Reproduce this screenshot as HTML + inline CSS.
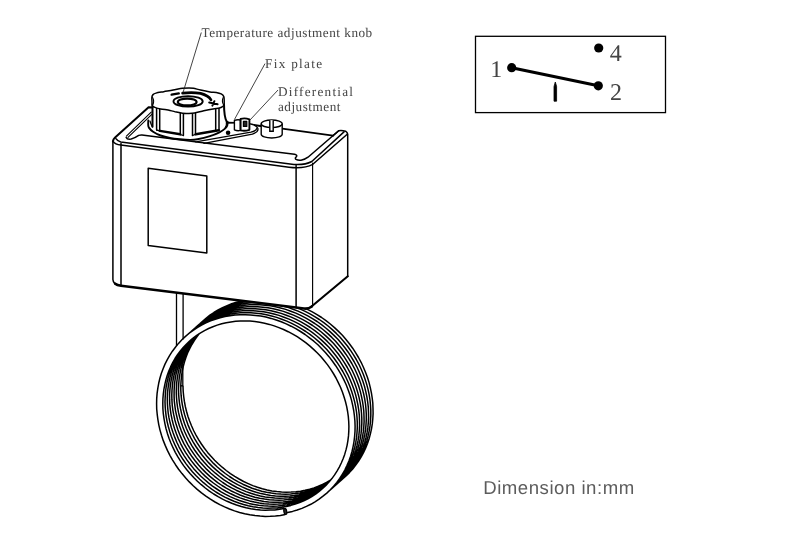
<!DOCTYPE html>
<html lang="en"><head><meta charset="utf-8"><title>Thermostat drawing</title>
<style>
html,body{margin:0;padding:0;background:#fff;}
body{width:800px;height:547px;overflow:hidden;}
svg{display:block;}
text{text-rendering:geometricPrecision;}
#labels,#switch,#dim{will-change:transform;}
</style></head>
<body>
<svg width="800" height="547" viewBox="0 0 800 547">
<rect width="800" height="547" fill="#fff"/>
<g id="coil"><path d="M176.5,292V346M183.1,292V339.5M182.8,364V385.8" fill="none" stroke="#000" stroke-width="1.3"/>
<path d="M180.8,385.8h2.4" fill="none" stroke="#000" stroke-width="1.4"/>
<path d="M285.3,514.6L280.4,515.4L275.4,516.0L270.3,516.3L265.2,516.4L260.1,516.1L255.0,515.6L249.8,514.8L244.7,513.8L239.6,512.5L234.5,510.9L229.5,509.0L224.6,506.9L219.8,504.6L215.0,502.0L210.4,499.2L205.9,496.1L201.5,492.9L197.2,489.4L193.2,485.7L189.3,481.9L185.5,477.8L182.0,473.6L178.6,469.2L175.5,464.7L172.6,460.1L169.9,455.3L167.4,450.4L165.2,445.4L163.2,440.4L161.5,435.2L160.0,430.1L158.8,424.8L157.9,419.6L157.2,414.3L156.7,409.1L156.6,403.8L156.7,398.6L157.1,393.4L157.8,388.3L158.7,383.3L159.9,378.3L161.3,373.5L163.1,368.7L165.0,364.1L167.3,359.6L169.7,355.3L172.4,351.2L175.4,347.2L178.5,343.4L181.9,339.8L185.5,336.4L189.2,333.2L193.2,330.3L197.3,327.6L201.6,325.1L206.0,322.9L210.6,320.9L215.3,319.2L220.1,317.8L225.0,316.6L230.0,315.7L235.0,315.1L240.1,314.8L245.2,314.7L250.4,314.9L255.6,315.4L260.8,316.1L265.9,317.1L271.1,318.4L276.2,320.0L281.2,321.8L286.2,323.9L291.1,326.2L295.8,328.7L300.5,331.5L305.1,334.5L309.5,337.8L313.8,341.2L317.9,344.8L321.8,348.7L325.6,352.7L329.2,356.9L332.5,361.2L335.7,365.7L338.7,370.3L341.4,375.0L343.9,379.9L346.2,384.8L348.2,389.9L350.0,395.0L351.5,400.1L352.7,405.3L353.7,410.5L354.4,415.7L354.9,421.0L355.1,426.2L355.0,431.4L354.6,436.5L354.0,441.6L353.1,446.6L352.0,451.5L350.6,456.3L348.9,461.0L346.9,465.6L344.8,470.1L342.3,474.3L339.7,478.5L336.8,482.4L333.6,486.2L330.3,489.7L326.8,493.1L323.0,496.2L319.1,499.2L315.0,501.8L310.8,504.3L306.4,506.4L301.9,508.4L297.2,510.0L292.5,511.4L287.6,512.6L285.1,513.0M186.5,335.5L190.2,332.3L194.1,329.2L198.2,326.5L202.4,323.9L206.8,321.6L211.3,319.6L216.0,317.8L220.7,316.2L225.6,315.0L230.5,314.0L235.6,313.3L240.6,312.8L245.8,312.7L250.9,312.8L256.1,313.2L261.3,313.8L266.5,314.8L271.6,316.0L276.7,317.4L281.8,319.2L286.8,321.1L291.7,323.4L296.5,325.9L301.2,328.6L305.8,331.5L310.3,334.7L314.6,338.0L318.8,341.6L322.8,345.4L326.6,349.3L330.2,353.5L333.7,357.7L336.9,362.2L340.0,366.8L342.8,371.5L345.4,376.3L347.7,381.2L349.8,386.2L351.6,391.2L353.2,396.4L354.6,401.6L355.7,406.8L356.5,412.0L357.0,417.2L357.3,422.4L357.3,427.6L357.0,432.8L356.5,437.9L355.7,442.9L354.6,447.9L353.3,452.7L351.7,457.5L349.9,462.1L347.8,466.6L345.4,470.9L342.8,475.1L340.0,479.1L337.0,483.0L333.7,486.6L330.2,490.0L327.2,492.7M188.8,333.5L192.5,330.3L196.4,327.2L200.4,324.5L204.6,321.9L209.0,319.6L213.6,317.6L218.2,315.8L223.0,314.2L227.8,313.0L232.8,312.0L237.8,311.3L242.9,310.8L248.0,310.7L253.2,310.8L258.4,311.2L263.6,311.8L268.7,312.8L273.9,314.0L279.0,315.4L284.0,317.2L289.0,319.1L293.9,321.4L298.8,323.9L303.5,326.6L308.1,329.5L312.5,332.7L316.8,336.0L321.0,339.6L325.0,343.4L328.9,347.3L332.5,351.5L335.9,355.7L339.2,360.2L342.2,364.8L345.0,369.5L347.6,374.3L349.9,379.2L352.0,384.2L353.9,389.2L355.5,394.4L356.8,399.6L357.9,404.8L358.7,410.0L359.3,415.2L359.5,420.4L359.6,425.6L359.3,430.8L358.8,435.9L358.0,440.9L356.9,445.9L355.6,450.7L354.0,455.5L352.1,460.1L350.0,464.6L347.7,468.9L345.1,473.1L342.2,477.1L339.2,481.0L335.9,484.6L332.5,488.0L329.4,490.7M191.0,331.5L194.7,328.3L198.6,325.2L202.7,322.5L206.9,319.9L211.3,317.6L215.8,315.6L220.5,313.8L225.2,312.2L230.1,311.0L235.0,310.0L240.1,309.3L245.1,308.8L250.3,308.7L255.4,308.8L260.6,309.2L265.8,309.8L271.0,310.8L276.1,312.0L281.2,313.4L286.3,315.2L291.3,317.1L296.2,319.4L301.0,321.9L305.7,324.6L310.3,327.5L314.8,330.7L319.1,334.0L323.3,337.6L327.3,341.4L331.1,345.3L334.7,349.5L338.2,353.7L341.4,358.2L344.5,362.8L347.3,367.5L349.9,372.3L352.2,377.2L354.3,382.2L356.1,387.2L357.7,392.4L359.1,397.6L360.2,402.8L361.0,408.0L361.5,413.2L361.8,418.4L361.8,423.6L361.5,428.8L361.0,433.9L360.2,438.9L359.1,443.9L357.8,448.7L356.2,453.5L354.4,458.1L352.3,462.6L349.9,466.9L347.3,471.1L344.5,475.1L341.5,479.0L338.2,482.6L334.7,486.0L331.7,488.7M193.3,329.5L197.0,326.3L200.9,323.2L204.9,320.5L209.1,317.9L213.5,315.6L218.1,313.6L222.7,311.8L227.5,310.2L232.3,309.0L237.3,308.0L242.3,307.3L247.4,306.8L252.5,306.7L257.7,306.8L262.9,307.2L268.1,307.8L273.2,308.8L278.4,310.0L283.5,311.4L288.5,313.2L293.5,315.1L298.4,317.4L303.3,319.9L308.0,322.6L312.6,325.5L317.0,328.7L321.3,332.0L325.5,335.6L329.5,339.4L333.4,343.3L337.0,347.5L340.4,351.7L343.7,356.2L346.7,360.8L349.5,365.5L352.1,370.3L354.4,375.2L356.5,380.2L358.4,385.2L360.0,390.4L361.3,395.6L362.4,400.8L363.2,406.0L363.8,411.2L364.0,416.4L364.1,421.6L363.8,426.8L363.3,431.9L362.5,436.9L361.4,441.9L360.1,446.7L358.5,451.5L356.6,456.1L354.5,460.6L352.2,464.9L349.6,469.1L346.7,473.1L343.7,477.0L340.4,480.6L337.0,484.0L333.9,486.7M195.5,327.5L199.2,324.3L203.1,321.2L207.2,318.5L211.4,315.9L215.8,313.6L220.3,311.6L225.0,309.8L229.7,308.2L234.6,307.0L239.5,306.0L244.6,305.3L249.6,304.8L254.8,304.7L259.9,304.8L265.1,305.2L270.3,305.8L275.5,306.8L280.6,308.0L285.7,309.4L290.8,311.2L295.8,313.1L300.7,315.4L305.5,317.9L310.2,320.6L314.8,323.5L319.3,326.7L323.6,330.0L327.8,333.6L331.8,337.4L335.6,341.3L339.2,345.5L342.7,349.7L345.9,354.2L349.0,358.8L351.8,363.5L354.4,368.3L356.7,373.2L358.8,378.2L360.6,383.2L362.2,388.4L363.6,393.6L364.7,398.8L365.5,404.0L366.0,409.2L366.3,414.4L366.3,419.6L366.0,424.8L365.5,429.9L364.7,434.9L363.6,439.9L362.3,444.7L360.7,449.5L358.9,454.1L356.8,458.6L354.4,462.9L351.8,467.1L349.0,471.1L346.0,475.0L342.7,478.6L339.2,482.0L336.2,484.7M197.8,325.5L201.5,322.3L205.4,319.2L209.4,316.5L213.6,313.9L218.0,311.6L222.6,309.6L227.2,307.8L232.0,306.2L236.8,305.0L241.8,304.0L246.8,303.3L251.9,302.8L257.0,302.7L262.2,302.8L267.4,303.2L272.6,303.8L277.7,304.8L282.9,306.0L288.0,307.4L293.0,309.2L298.0,311.1L302.9,313.4L307.8,315.9L312.5,318.6L317.1,321.5L321.5,324.7L325.8,328.0L330.0,331.6L334.0,335.4L337.9,339.3L341.5,343.5L344.9,347.7L348.2,352.2L351.2,356.8L354.0,361.5L356.6,366.3L358.9,371.2L361.0,376.2L362.9,381.2L364.5,386.4L365.8,391.6L366.9,396.8L367.7,402.0L368.3,407.2L368.5,412.4L368.6,417.6L368.3,422.8L367.8,427.9L367.0,432.9L365.9,437.9L364.6,442.7L363.0,447.5L361.1,452.1L359.0,456.6L356.7,460.9L354.1,465.1L351.2,469.1L348.2,473.0L344.9,476.6L341.5,480.0L338.4,482.7M200.0,323.5L203.7,320.3L207.6,317.2L211.7,314.5L215.9,311.9L220.3,309.6L224.8,307.6L229.5,305.8L234.2,304.2L239.1,303.0L244.0,302.0L249.1,301.3L254.1,300.8L259.3,300.7L264.4,300.8L269.6,301.2L274.8,301.8L280.0,302.8L285.1,304.0L290.2,305.4L295.3,307.2L300.3,309.1L305.2,311.4L310.0,313.9L314.7,316.6L319.3,319.5L323.8,322.7L328.1,326.0L332.3,329.6L336.3,333.4L340.1,337.3L343.7,341.5L347.2,345.7L350.4,350.2L353.5,354.8L356.3,359.5L358.9,364.3L361.2,369.2L363.3,374.2L365.1,379.2L366.7,384.4L368.1,389.6L369.2,394.8L370.0,400.0L370.5,405.2L370.8,410.4L370.8,415.6L370.5,420.8L370.0,425.9L369.2,430.9L368.1,435.9L366.8,440.7L365.2,445.5L363.4,450.1L361.3,454.6L358.9,458.9L356.3,463.1L353.5,467.1L350.5,471.0L347.2,474.6L343.7,478.0L340.7,480.7M202.3,321.5L206.0,318.3L209.9,315.2L213.9,312.5L218.1,309.9L222.5,307.6L227.1,305.6L231.7,303.8L236.5,302.2L241.3,301.0L246.3,300.0L251.3,299.3L256.4,298.8L261.5,298.7L266.7,298.8L271.9,299.2L277.1,299.8L282.2,300.8L287.4,302.0L292.5,303.4L297.5,305.2L302.5,307.1L307.4,309.4L312.3,311.9L317.0,314.6L321.6,317.5L326.0,320.7L330.3,324.0L334.5,327.6L338.5,331.4L342.4,335.3L346.0,339.5L349.4,343.7L352.7,348.2L355.7,352.8L358.5,357.5L361.1,362.3L363.4,367.2L365.5,372.2L367.4,377.2L369.0,382.4L370.3,387.6L371.4,392.8L372.2,398.0L372.8,403.2L373.0,408.4L373.1,413.6L372.8,418.8L372.3,423.9L371.5,428.9L370.4,433.9L369.1,438.7L367.5,443.5L365.6,448.1L363.5,452.6L361.2,456.9L358.6,461.1L355.7,465.1L352.7,469.0L349.4,472.6L346.0,476.0L342.9,478.7M284.1,508.5L279.5,509.3L274.8,509.9L270.1,510.1L265.3,510.2L260.5,510.0L255.7,509.5L250.9,508.7L246.1,507.7L241.3,506.5L236.5,505.0L231.8,503.3L227.1,501.3L222.6,499.1L218.1,496.6L213.7,494.0L209.4,491.1L205.3,488.0L201.3,484.7L197.4,481.2L193.7,477.5L190.2,473.7L186.8,469.7L183.6,465.6L180.7,461.3L177.9,456.9L175.3,452.3L173.0,447.7L170.9,443.0L169.0,438.2L167.4,433.4L166.0,428.5L164.9,423.6L164.0,418.6L163.3,413.7L162.9,408.7L162.8,403.8L162.9,398.9L163.3,394.0L163.9,389.3L164.8,384.6L165.9,379.9L167.2,375.4L168.8,371.0L170.7,366.7L172.7,362.6L175.0,358.5L177.5,354.7L180.3,351.0L183.2,347.5L186.3,344.2L189.6,341.0L193.1,338.1L196.7,335.4L200.6,332.9L204.5,330.6L208.6,328.5L212.9,326.7L217.2,325.1L221.7,323.8L226.2,322.7L230.9,321.9L235.6,321.3L240.3,321.0L245.1,320.9L250.0,321.1L254.8,321.5L259.7,322.2L264.6,323.2L269.4,324.4L274.2,325.9L278.9,327.6L283.6,329.5L288.2,331.7L292.8,334.1L297.2,336.7L301.5,339.6L305.7,342.7L309.7,345.9L313.6,349.4L317.4,353.0L321.0,356.8L324.3,360.8L327.6,364.9L330.6,369.1L333.4,373.5L336.0,378.0L338.3,382.6L340.5,387.3L342.4,392.0L344.0,396.8L345.5,401.7L346.7,406.6L347.6,411.5L348.3,416.4L348.7,421.3L348.9,426.2L348.8,431.1L348.5,435.9L347.9,440.6L347.1,445.3L346.0,449.9L344.7,454.4L343.1,458.8L341.3,463.0L339.3,467.1L337.0,471.1L334.6,474.9L331.9,478.6L329.0,482.1L325.9,485.4L322.6,488.5L319.2,491.4L315.6,494.1L311.8,496.5L307.9,498.8L303.8,500.8L299.6,502.6L295.3,504.1L290.9,505.4L286.3,506.5L281.7,507.3L277.1,507.9L272.4,508.1L267.6,508.2L262.8,508.0L258.0,507.5L253.1,506.7L248.3,505.7L243.5,504.5L238.8,503.0L234.0,501.3L229.4,499.3L224.8,497.1L220.3,494.6L215.9,492.0L211.7,489.1L207.5,486.0L203.5,482.7L199.7,479.2L195.9,475.5L192.4,471.7L189.1,467.7L185.9,463.6L182.9,459.3L180.1,454.9L177.6,450.3L175.3,445.7L173.2,441.0L171.3,436.2L169.7,431.4L168.3,426.5L167.1,421.6L166.2,416.6L165.6,411.7L165.2,406.7L165.0,401.8L165.2,396.9L165.5,392.0L166.1,387.3L167.0,382.6L168.1,377.9L169.5,373.4L171.1,369.0L172.9,364.7L175.0,360.6L177.3,356.5L179.8,352.7L182.5,349.0L185.4,345.5L188.5,342.2L190.7,340.0M323.8,487.5L320.3,490.3L316.6,492.9L312.8,495.3L308.8,497.5L304.7,499.4L300.4,501.1L296.1,502.6L291.6,503.8L287.1,504.8L282.4,505.5L277.8,506.0L273.0,506.2L268.2,506.1L263.4,505.8L258.6,505.3L253.8,504.4L249.0,503.4L244.2,502.0L239.4,500.5L234.7,498.6L230.1,496.6L225.6,494.3L221.1,491.8L216.8,489.0L212.5,486.1L208.4,482.9L204.5,479.5L200.6,476.0L197.0,472.3L193.5,468.4L190.2,464.3L187.1,460.1L184.2,455.8L181.5,451.4L179.0,446.8L176.8,442.2L174.8,437.4L173.0,432.6L171.4,427.8L170.1,422.8L169.0,417.9L168.2,413.0L167.7,408.0L167.4,403.1L167.3,398.1L167.5,393.3L168.0,388.4L168.7,383.7L169.6,379.0L170.8,374.4L172.2,369.9L173.9,365.6L175.8,361.3L178.0,357.2L180.3,353.2L182.9,349.4L185.7,345.8L188.7,342.4L191.9,339.1M324.9,486.4L321.3,489.2L317.6,491.7L313.7,494.1L309.7,496.2L305.5,498.0L301.2,499.7L296.8,501.0L292.4,502.2L287.8,503.1L283.1,503.7L278.4,504.1L273.7,504.2L268.9,504.1L264.1,503.7L259.2,503.0L254.4,502.1L249.6,500.9L244.8,499.5L240.1,497.9L235.4,496.0L230.8,493.8L226.3,491.5L221.9,488.9L217.6,486.0L213.4,483.0L209.3,479.8L205.4,476.4L201.7,472.8L198.1,469.0L194.7,465.0L191.4,460.9L188.4,456.7L185.5,452.3L182.9,447.9L180.5,443.3L178.3,438.6L176.4,433.8L174.7,429.0L173.2,424.1L172.0,419.2L171.0,414.3L170.3,409.3L169.8,404.4L169.6,399.4L169.6,394.5L169.9,389.7L170.4,384.9L171.2,380.1L172.2,375.5L173.5,370.9L175.0,366.5L176.8,362.1L178.8,357.9L181.0,353.9L183.4,350.0L186.1,346.2L188.9,342.6L192.0,339.2L193.0,338.2M325.3,485.8L321.7,488.5L317.9,490.9L313.9,493.1L309.9,495.1L305.6,496.9L301.3,498.4L296.9,499.6L292.3,500.7L287.7,501.4L283.0,501.9L278.3,502.2L273.5,502.2L268.7,501.9L263.9,501.4L259.1,500.6L254.3,499.6L249.5,498.3L244.7,496.7L240.0,495.0L235.4,492.9L230.8,490.7L226.3,488.2L222.0,485.5L217.7,482.6L213.6,479.4L209.6,476.1L205.8,472.6L202.1,468.9L198.6,465.0L195.3,461.0L192.1,456.8L189.2,452.5L186.5,448.1L183.9,443.6L181.6,438.9L179.6,434.2L177.8,429.4L176.2,424.6L174.8,419.7L173.7,414.7L172.8,409.8L172.2,404.8L171.9,399.9L171.8,395.0L172.0,390.1L172.4,385.2L173.0,380.5L173.9,375.8L175.1,371.2L176.5,366.7L178.1,362.3L180.0,358.0L182.1,353.9L184.4,349.9L187.0,346.1L189.7,342.4L192.7,338.9L194.2,337.2M326.4,484.8L322.7,487.3L318.8,489.7L314.8,491.8L310.7,493.7L306.5,495.4L302.1,496.8L297.6,498.0L293.1,498.9L288.4,499.6L283.7,500.0L279.0,500.2L274.2,500.1L269.4,499.7L264.5,499.1L259.7,498.3L254.9,497.2L250.1,495.8L245.4,494.2L240.7,492.3L236.1,490.2L231.6,487.9L227.1,485.3L222.8,482.5L218.6,479.5L214.5,476.3L210.6,473.0L206.8,469.4L203.2,465.6L199.7,461.7L196.4,457.6L193.4,453.4L190.5,449.1L187.8,444.6L185.4,440.0L183.2,435.4L181.2,430.6L179.4,425.8L177.9,420.9L176.7,416.0L175.6,411.1L174.9,406.1L174.3,401.2L174.1,396.2L174.1,391.3L174.3,386.5L174.8,381.6L175.5,376.9L176.5,372.2L177.8,367.7L179.3,363.2L181.0,358.8L182.9,354.6L185.1,350.5L187.5,346.6L190.1,342.8L192.9,339.2L195.4,336.4M327.4,483.6L323.7,486.1L319.8,488.4L315.7,490.5L311.6,492.3L307.3,493.9L302.9,495.2L298.4,496.3L293.8,497.2L289.1,497.8L284.4,498.1L279.6,498.2L274.8,498.0L270.0,497.6L265.2,496.9L260.4,495.9L255.6,494.7L250.8,493.3L246.1,491.6L241.4,489.6L236.8,487.5L232.3,485.0L227.9,482.4L223.6,479.6L219.5,476.5L215.4,473.2L211.5,469.8L207.8,466.2L204.2,462.3L200.9,458.4L197.7,454.3L194.6,450.0L191.8,445.6L189.3,441.1L186.9,436.5L184.7,431.8L182.8,427.0L181.2,422.2L179.7,417.3L178.5,412.4L177.6,407.4L176.9,402.5L176.5,397.5L176.3,392.6L176.4,387.7L176.7,382.9L177.3,378.1L178.1,373.3L179.2,368.7L180.5,364.2L182.1,359.7L183.9,355.4L185.9,351.2L188.1,347.2L190.6,343.3L193.3,339.6L196.2,336.1L196.7,335.5M328.5,482.5L324.7,484.9L320.7,487.1L316.6,489.1L312.4,490.9L308.1,492.4L303.6,493.6L299.1,494.7L294.5,495.4L289.8,495.9L285.1,496.2L280.3,496.2L275.5,495.9L270.7,495.4L265.8,494.6L261.0,493.6L256.2,492.3L251.5,490.7L246.8,489.0L242.1,486.9L237.6,484.7L233.1,482.2L228.7,479.5L224.5,476.6L220.3,473.4L216.4,470.1L212.5,466.6L208.8,462.9L205.3,459.0L202.0,455.0L198.9,450.8L195.9,446.5L193.2,442.1L190.7,437.6L188.4,432.9L186.3,428.2L184.5,423.4L182.9,418.6L181.6,413.7L180.5,408.7L179.6,403.8L179.0,398.8L178.6,393.9L178.5,389.0L178.7,384.1L179.1,379.2L179.8,374.5L180.7,369.8L181.8,365.2L183.2,360.7L184.9,356.3L186.8,352.0L188.9,347.9L191.2,343.9L193.7,340.1L196.5,336.4L197.9,334.6M329.5,481.3L325.6,483.7L321.6,485.8L317.5,487.7L313.2,489.4L308.8,490.8L304.4,492.0L299.8,492.9L295.2,493.6L290.5,494.0L285.7,494.2L280.9,494.1L276.1,493.7L271.3,493.1L266.5,492.3L261.7,491.2L256.9,489.8L252.1,488.2L247.5,486.3L242.8,484.2L238.3,481.9L233.9,479.3L229.5,476.5L225.3,473.5L221.3,470.3L217.3,467.0L213.5,463.4L209.9,459.6L206.5,455.7L203.2,451.6L200.1,447.4L197.3,443.1L194.6,438.6L192.2,434.0L189.9,429.4L187.9,424.6L186.2,419.8L184.7,414.9L183.4,410.0L182.4,405.1L181.6,400.1L181.1,395.2L180.8,390.2L180.8,385.3L181.1,380.5L181.6,375.6L182.3,370.9L183.3,366.2L184.5,361.7L186.0,357.2L187.7,352.8L189.7,348.6L191.9,344.5L194.3,340.6L196.9,336.8L199.2,333.8M330.4,480.1L326.5,482.4L322.5,484.5L318.3,486.3L314.0,487.9L309.6,489.2L305.1,490.3L300.5,491.2L295.9,491.8L291.1,492.1L286.4,492.2L281.6,492.0L276.8,491.6L271.9,490.9L267.1,489.9L262.3,488.7L257.5,487.3L252.8,485.6L248.2,483.6L243.6,481.5L239.1,479.0L234.7,476.4L230.4,473.6L226.2,470.5L222.2,467.2L218.3,463.8L214.6,460.2L211.0,456.3L207.6,452.4L204.4,448.3L201.4,444.0L198.6,439.6L196.0,435.1L193.6,430.5L191.5,425.8L189.6,421.0L187.9,416.2L186.5,411.3L185.3,406.4L184.4,401.4L183.7,396.5L183.2,391.5L183.0,386.6L183.0,385.8" fill="none" stroke="#000" stroke-width="1.5" stroke-linejoin="round"/>
<ellipse cx="285.3" cy="511.5" rx="1.4" ry="3.1" transform="rotate(-10 284.7 511.5)" fill="#2a2a2a" stroke="#000" stroke-width="1.3"/></g>
<g id="box" fill="none" stroke="#000" stroke-width="1.5" stroke-linejoin="round" stroke-linecap="round">
<path fill="#fff" stroke="none" d="M112.8,141 Q113.2,138.6 114.6,137.3 L148.3,106.8 L152,107.2 L260,123 L333.1,135.6 L338.7,130.7 Q341.5,130 345.6,131.2 Q347.6,132.4 347.7,134.5 L347.9,276.3 L311.5,306.5 Q309,309 304,308.4 L120.5,285 Q113.2,284 112.9,279 Z"/>
<!-- silhouette -->
<path d="M112.9,141.5 V279.5 Q113.2,284.2 119,285.3"/>
<path stroke-width="2" d="M112.9,141.5 Q113.2,139.2 114.8,137.8 L148.6,107.2 L153,107.6"/>
<path stroke-width="1.9" d="M227.6,122.8 L236,123 M250,124.4 L262,126.2 M282.2,128.6 L333.1,135.6"/>
<path d="M333.1,135.6 L338.7,130.7 Q341.5,130 345.6,131.2 Q347.6,132.4 347.7,134.5 V276.3"/>
<path stroke-width="2.1" d="M347.8,276.3 L311.8,306.2"/>
<path stroke-width="2.6" d="M115.2,283.7 Q117,285.2 121,285.7 L304,308.5 Q308.6,309 311.8,306.4"/>
<!-- verticals -->
<path d="M121,143.5 V285 M296.1,165.5 V307"/>
<path stroke-width="1.15" d="M312.6,163 V305.5"/>
<!-- front top edges -->
<path d="M115.9,138.7 Q117.5,141.2 120.8,141.9 L290,164 Q303,166 311.8,161.5 L344,131.9"/>
<path d="M113.1,141.3 Q115,144.3 120.8,145 L289,167.2 Q304,169 312.8,164.3 L347.5,134"/>
<!-- inner recess -->
<path d="M126.2,137.4 Q127,139.6 131.2,139 Q134.5,138.3 138.7,135.4 Q140,134.9 142,135 L294.5,154.3 Q297.5,155 296.5,156.6 Q294.5,158 296,159.4 Q298,160.6 301,160.2 Q305,159.6 308,157.2 L338.7,130.7"/>
<!-- groove top-left -->
<path stroke-width="1.1" d="M126.4,136.2 L151.2,112.2 M128,137.4 L152.6,113.6"/>
<!-- outer diagonal doubling -->

<!-- label rect -->
<path d="M148.2,168.3 L206.8,176 V252.9 L148.2,245.4 Z"/>
</g>

<g id="plate" fill="#fff" stroke="#000" stroke-width="1.3" stroke-linejoin="round" stroke-linecap="round">
<path stroke="none" d="M196,142 L252,133.6 Q259,131.5 257.6,128 Q255.5,124 248,123 L226,124 L200,136 Z"/>
<path fill="none" d="M204,143.4 L252.4,134.2 Q259,131.8 257.8,128.2 Q256,124.8 250,123.9"/>
<path fill="none" d="M195.8,141.9 L251,132.2 Q256.5,130.6 256.6,128.6"/>
<circle cx="228.1" cy="132.8" r="2.3" fill="#000" stroke="none"/>
<path d="M234.4,120.4 Q237.4,119.2 240.4,120 V130.4 Q237.4,131.2 234.4,129.8 Z" stroke-width="1.4"/>
<path d="M240.6,118.9 Q245,117.6 249.4,119.4 V129.8 Q245,131.4 240.6,130.4 Z" stroke-width="1.9"/>
<path d="M243.4,121.4 h3.4 v5 h-3.4z" fill="#222" stroke-width="1.2"/>
</g>

<g id="screw" fill="#fff" stroke="#000" stroke-width="1.4">
<path d="M261.2,123.8 V134.2 A10.5,3.8 0 0,0 282.2,134.2 V123.8"/>
<ellipse cx="271.7" cy="123.8" rx="10.5" ry="3.8"/>
<path d="M269.8,120.2 V131.2 H273.2 V120.2" />
</g>

<g id="knob" fill="#fff" stroke="#000" stroke-width="1.5" stroke-linejoin="round" stroke-linecap="round">
<!-- flange -->
<path d="M148.30,120.50C148.28,121.17 148.10,123.32 148.20,124.50C148.30,125.68 148.08,126.38 148.90,127.60C149.72,128.82 151.15,130.48 153.10,131.80C155.05,133.12 157.78,134.47 160.60,135.50C163.42,136.53 166.77,137.37 170.00,138.00C173.23,138.63 176.67,138.98 180.00,139.30C183.33,139.62 187.08,139.90 190.00,139.90C192.92,139.90 194.17,139.92 197.50,139.30C200.83,138.68 206.35,137.35 210.00,136.20C213.65,135.05 216.90,133.67 219.40,132.40C221.90,131.13 223.70,129.73 225.00,128.60C226.30,127.47 226.77,126.70 227.20,125.60C227.63,124.50 227.53,122.60 227.60,122.00 L224,112 L152.4,112 L152.4,120 Z" stroke="none"/>
<path d="M148.30,120.50C148.28,121.17 148.10,123.32 148.20,124.50C148.30,125.68 148.08,126.38 148.90,127.60C149.72,128.82 151.15,130.48 153.10,131.80C155.05,133.12 157.78,134.47 160.60,135.50C163.42,136.53 166.77,137.37 170.00,138.00C173.23,138.63 176.67,138.98 180.00,139.30C183.33,139.62 187.08,139.90 190.00,139.90C192.92,139.90 194.17,139.92 197.50,139.30C200.83,138.68 206.35,137.35 210.00,136.20C213.65,135.05 216.90,133.67 219.40,132.40C221.90,131.13 223.70,129.73 225.00,128.60C226.30,127.47 226.77,126.70 227.20,125.60C227.63,124.50 227.53,122.60 227.60,122.00" fill="none" stroke-width="1.9"/>
<!-- body -->
<path stroke="none" d="M152.3,100 V127 L160,131 L180,134.6 L183.4,135.6 H192.5 L195.6,134.4 L219,130.2 L225.4,124 L223.6,100 Z"/>
<path fill="none" stroke-width="2" d="M152.5,104 V126.8 M224,104 L224.2,110 Q224.6,116 225.6,119 Q226.4,121.4 227.6,122.4"/>
<path fill="none" stroke-width="1.2" d="M150,121 Q151.6,126 152.4,126.8 M226.4,121.6 Q227,125 225,128.4"/>
<!-- flutes -->
<path fill="none" stroke-width="1.5" d="M156.6,108.4 V130 M159.7,109.4 V130.8 M180.3,113.4 V134.4 M183.4,113.6 V135.5 M192.5,113.6 V135.5 M195.5,113.3 V134.4 M215.7,109.4 V130.6 M219,108.6 V130"/>
<path fill="none" stroke-width="1.3" d="M156.6,130 L159.7,130.8 M180.3,134.6 L183.4,135.5 M192.5,135.5 L195.5,134.4"/>
<path fill="none" stroke-width="2.4" d="M159.9,130.9 L180.2,134.3 M195.7,134.2 L218.8,130.2"/>
<!-- top face -->
<path d="M151.90,97.20C152.05,96.09 152.38,95.21 153.00,94.60C153.62,93.98 154.39,93.53 156.00,93.10C157.61,92.66 161.19,92.15 163.75,91.70C166.31,91.25 170.29,90.62 173.10,90.10C175.91,89.58 180.15,88.58 182.50,88.25C184.85,87.92 187.10,87.91 188.75,87.90C190.40,87.89 191.72,87.87 193.50,88.20C195.28,88.53 198.12,89.54 200.60,90.10C203.07,90.66 207.65,91.56 210.00,91.90C212.35,92.25 214.57,92.10 216.25,92.40C217.93,92.70 220.07,93.27 221.20,93.90C222.33,94.53 223.35,95.53 223.80,96.60C224.25,97.66 224.17,99.74 224.20,101.00C224.23,102.26 224.25,104.16 224.00,105.00C223.75,105.84 223.19,106.15 222.50,106.60C221.81,107.05 220.81,107.66 219.40,108.00C217.99,108.34 215.45,108.49 213.10,108.90C210.75,109.31 206.56,110.14 203.75,110.75C200.94,111.36 196.76,112.60 194.40,113.00C192.04,113.40 189.78,113.36 188.00,113.40C186.22,113.44 184.26,113.46 182.50,113.25C180.74,113.04 178.12,112.43 176.25,112.00C174.38,111.57 172.35,110.87 170.00,110.40C167.65,109.94 162.78,109.32 160.60,108.90C158.42,108.48 156.72,108.03 155.50,107.60C154.28,107.16 153.03,106.84 152.50,106.00C151.97,105.16 152.09,103.32 152.00,102.00C151.91,100.68 151.75,98.31 151.90,97.20Z"/>
<path fill="none" stroke-width="1.1" d="M152.6,97.5 Q154.6,101 152.8,105 M223.2,97.5 Q221.4,101 223.6,105"/>
<!-- hole -->
<ellipse cx="188.1" cy="101.4" rx="14.6" ry="5.2" stroke-width="1.9"/>
<ellipse cx="187.2" cy="102" rx="9.4" ry="3.4" stroke-width="2.1"/>
<!-- arrow arc -->
<path fill="none" stroke-width="2.3" d="M171.6,94.7 L178.8,93.4"/>
<path fill="none" stroke-width="2.7" d="M182.6,93.2 Q192,91.8 200.6,93.4 Q208.6,95.6 211,99.8"/>
<path fill="none" stroke-width="2" d="M209.2,102.4 L217.6,104.2 M214.4,101.2 L212.4,105.6"/>
</g>

<g id="leaders" fill="none" stroke="#222" stroke-width="0.85">
<path d="M201.3,32.5 L183,92.6"/>
<path d="M265,63.6 L234.4,119.6"/>
<path d="M278,90 L250,120"/>
</g>
<g id="labels" font-family="'Liberation Serif',serif" font-size="13.2px" fill="#444">
<text x="201.6" y="37.3" textLength="170.6" lengthAdjust="spacing">Temperature adjustment knob</text>
<text x="265" y="67.8" textLength="57" lengthAdjust="spacing">Fix plate</text>
<text x="278" y="95.6" textLength="75" lengthAdjust="spacing">Differential</text>
<text x="278" y="110.6" textLength="62.4" lengthAdjust="spacing">adjustment</text>
</g>

<g id="switch">
<rect x="475.5" y="36.3" width="190" height="76.3" fill="none" stroke="#000" stroke-width="1.3"/>
<path d="M511.7,67.7 L598.3,85.8" stroke="#000" stroke-width="3" fill="none"/>
<circle cx="511.7" cy="67.7" r="4.6"/>
<circle cx="598.7" cy="48" r="4.6"/>
<circle cx="598.3" cy="85.8" r="4.6"/>
<path d="M554,101.2 V86.5 L555.3,82 L556.6,86.5 V101.2 Z" fill="#000" stroke="#000" stroke-width="0.8" stroke-linejoin="round"/>
<g font-family="'Liberation Serif',serif" font-size="24px" fill="#444" text-anchor="middle">
<text x="496.3" y="77.2">1</text>
<text x="615.8" y="60.7">4</text>
<text x="616" y="99.7">2</text>
</g>
</g>

<text id="dim" x="483.2" y="493.6" font-family="'Liberation Sans',sans-serif" font-size="18.6px" fill="#5c5c5c" textLength="151" lengthAdjust="spacing">Dimension in:mm</text>

</svg>
</body></html>
